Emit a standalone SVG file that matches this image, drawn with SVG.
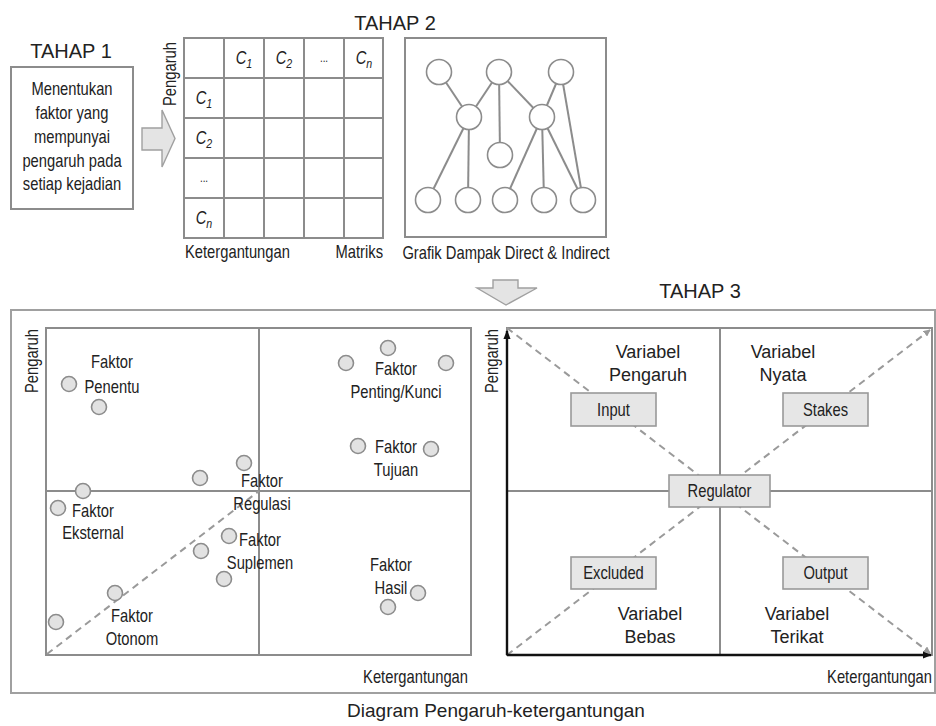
<svg xmlns="http://www.w3.org/2000/svg" width="936" height="726" viewBox="0 0 936 726">
<defs>
<style>
.n{font-family:"Liberation Sans",Arial,sans-serif;fill:#222;font-size:18px;}
.w{font-family:"Liberation Sans",Arial,sans-serif;fill:#222;}
.t18{font-size:18px;}
.g{fill:none;stroke:#8c8c8c;stroke-width:2;}
.gl{stroke:#8c8c8c;stroke-width:2;}
.dot{fill:#e2e2e2;stroke:#8c8c8c;stroke-width:1.6;}
.gn{fill:#fff;stroke:#8c8c8c;stroke-width:1.6;}
.box{fill:#e6e6e6;stroke:#999;stroke-width:1.6;}
.dash{stroke:#9a9a9a;stroke-width:2;stroke-dasharray:7 5;fill:none;}
.blk{fill:#e4e4e4;stroke:#a0a0a0;stroke-width:1.4;}
</style>
<marker id="ga" viewBox="0 0 10 10" refX="9" refY="5" markerWidth="7" markerHeight="7" orient="auto" markerUnits="userSpaceOnUse">
<path d="M0,0 L10,5 L0,10 z" fill="#9a9a9a"/>
</marker>
<marker id="ka" viewBox="0 0 10 10" refX="9" refY="5" markerWidth="9" markerHeight="9" orient="auto" markerUnits="userSpaceOnUse">
<path d="M0,1 L10,5 L0,9 z" fill="#111"/>
</marker>
</defs>
<rect width="936" height="726" fill="#fff"/>

<!-- TAHAP 1 -->
<g id="tahap1">
<text class="w" x="71" y="58" font-size="20" text-anchor="middle">TAHAP 1</text>
<rect x="11" y="67" width="122" height="142" class="g" stroke="#a0a0a0"/>
<g class="n" text-anchor="middle">
<text transform="translate(72,95) scale(.82,1)">Menentukan</text>
<text transform="translate(72,119) scale(.82,1)">faktor yang</text>
<text transform="translate(72,143) scale(.82,1)">mempunyai</text>
<text transform="translate(72,167) scale(.82,1)">pengaruh pada</text>
<text transform="translate(72,190) scale(.82,1)">setiap kejadian</text>
</g>
</g>

<g id="arrow-right">
<path class="blk" d="M142,128 L162,128 L162,110 L175,138.5 L162,167 L162,150 L142,150 z"/>
</g>

<!-- TAHAP 2 matrix -->
<g id="matriks">
<text class="w" x="395" y="30" font-size="20" text-anchor="middle">TAHAP 2</text>
<rect x="184" y="38" width="199" height="200" class="g"/>
<g class="gl">
<line x1="224" y1="38" x2="224" y2="238"/>
<line x1="264" y1="38" x2="264" y2="238"/>
<line x1="304" y1="38" x2="304" y2="238"/>
<line x1="344" y1="38" x2="344" y2="238"/>
<line x1="184" y1="78" x2="383" y2="78"/>
<line x1="184" y1="118" x2="383" y2="118"/>
<line x1="184" y1="158" x2="383" y2="158"/>
<line x1="184" y1="198" x2="383" y2="198"/>
</g>
<g class="n" font-size="19" font-style="italic" text-anchor="middle">
<text transform="translate(244,64) scale(.82,1)">C<tspan font-size="13" dy="4">1</tspan></text>
<text transform="translate(284,64) scale(.82,1)">C<tspan font-size="13" dy="4">2</tspan></text>
<text transform="translate(324,62) scale(.82,1)" font-size="12" font-style="normal">...</text>
<text transform="translate(364,64) scale(.82,1)">C<tspan font-size="13" dy="4">n</tspan></text>
<text transform="translate(204,104) scale(.82,1)">C<tspan font-size="13" dy="4">1</tspan></text>
<text transform="translate(204,144) scale(.82,1)">C<tspan font-size="13" dy="4">2</tspan></text>
<text transform="translate(204,182) scale(.82,1)" font-size="12" font-style="normal">...</text>
<text transform="translate(204,224) scale(.82,1)">C<tspan font-size="13" dy="4">n</tspan></text>
</g>
<text class="n" font-size="15" text-anchor="middle" transform="translate(176,74) rotate(-90) scale(.82,1)">Pengaruh</text>
<text class="n" font-size="16" transform="translate(185,258) scale(.82,1)">Ketergantungan</text>
<text class="n" font-size="16" text-anchor="end" transform="translate(383,258) scale(.82,1)">Matriks</text>
</g>

<!-- TAHAP 2 graph -->
<g id="grafik">
<rect x="405" y="38" width="201" height="199" class="g"/>
<g class="gl">
<line x1="439" y1="72" x2="469" y2="117"/>
<line x1="499" y1="72" x2="469" y2="117"/>
<line x1="499" y1="72" x2="500" y2="155"/>
<line x1="499" y1="72" x2="542" y2="117"/>
<line x1="561" y1="72" x2="542" y2="117"/>
<line x1="561" y1="72" x2="583" y2="200"/>
<line x1="469" y1="117" x2="428" y2="200"/>
<line x1="469" y1="117" x2="468" y2="200"/>
<line x1="542" y1="117" x2="505" y2="200"/>
<line x1="542" y1="117" x2="544" y2="200"/>
<line x1="542" y1="117" x2="583" y2="200"/>
</g>
<g class="gn">
<circle cx="439" cy="72" r="12.5"/>
<circle cx="499" cy="72" r="12.5"/>
<circle cx="561" cy="72" r="12.5"/>
<circle cx="469" cy="117" r="12.5"/>
<circle cx="542" cy="117" r="12.5"/>
<circle cx="500" cy="155" r="12.5"/>
<circle cx="428" cy="200" r="12.5"/>
<circle cx="468" cy="200" r="12.5"/>
<circle cx="505" cy="200" r="12.5"/>
<circle cx="544" cy="200" r="12.5"/>
<circle cx="583" cy="200" r="12.5"/>
</g>
<text class="n" font-size="16" text-anchor="middle" transform="translate(506,259) scale(.82,1)">Grafik Dampak Direct &amp; Indirect</text>
</g>

<g id="arrow-down">
<path class="blk" d="M493,280 L518,280 L518,288 L537,288 L506,305 L477,288 L493,288 z"/>
</g>

<!-- TAHAP 3 -->
<g id="tahap3">
<text class="w" x="700" y="298" font-size="20" text-anchor="middle">TAHAP 3</text>
<rect x="11" y="310" width="924" height="383" fill="none" stroke="#a0a0a0" stroke-width="2"/>
<text class="w" x="496" y="717" font-size="19" text-anchor="middle">Diagram Pengaruh-ketergantungan</text>
</g>

<!-- left plot -->
<g id="plot-kiri">
<rect x="46" y="328" width="425" height="327" class="g"/>
<line x1="259" y1="328" x2="259" y2="655" class="gl"/>
<line x1="46" y1="491" x2="471" y2="491" class="gl"/>
<line x1="47" y1="654" x2="259" y2="491" class="dash"/>
<text class="n" font-size="17" text-anchor="middle" transform="translate(38,361) rotate(-90) scale(.82,1)">Pengaruh</text>
<text class="n" text-anchor="end" transform="translate(468,683) scale(.82,1)">Ketergantungan</text>
<g class="dot">
<circle cx="69" cy="384" r="7.5"/>
<circle cx="99" cy="407" r="7.5"/>
<circle cx="200" cy="478" r="7.5"/>
<circle cx="244" cy="463" r="7.5"/>
<circle cx="83" cy="491" r="7.5"/>
<circle cx="58" cy="508" r="7.5"/>
<circle cx="229" cy="536" r="7.5"/>
<circle cx="201" cy="551" r="7.5"/>
<circle cx="224" cy="579" r="7.5"/>
<circle cx="115" cy="593" r="7.5"/>
<circle cx="56" cy="622" r="7.5"/>
<circle cx="388" cy="348" r="7.5"/>
<circle cx="346" cy="363" r="7.5"/>
<circle cx="446" cy="363" r="7.5"/>
<circle cx="358" cy="446" r="7.5"/>
<circle cx="431" cy="449" r="7.5"/>
<circle cx="418" cy="593" r="7.5"/>
<circle cx="388" cy="607" r="7.5"/>
</g>
<g class="n" text-anchor="middle">
<text transform="translate(112,368) scale(.82,1)">Faktor</text><text transform="translate(112,393) scale(.82,1)">Penentu</text>
<text transform="translate(396,375) scale(.82,1)">Faktor</text><text transform="translate(396,398) scale(.82,1)">Penting/Kunci</text>
<text transform="translate(396,453) scale(.82,1)">Faktor</text><text transform="translate(396,476) scale(.82,1)">Tujuan</text>
<text transform="translate(262,487) scale(.82,1)">Faktor</text><text transform="translate(262,510) scale(.82,1)">Regulasi</text>
<text transform="translate(93,517) scale(.82,1)">Faktor</text><text transform="translate(93,539) scale(.82,1)">Eksternal</text>
<text transform="translate(260,546) scale(.82,1)">Faktor</text><text transform="translate(260,569) scale(.82,1)">Suplemen</text>
<text transform="translate(391,571) scale(.82,1)">Faktor</text><text transform="translate(391,594) scale(.82,1)">Hasil</text>
<text transform="translate(132,622) scale(.82,1)">Faktor</text><text transform="translate(132,645) scale(.82,1)">Otonom</text>
</g>
</g>

<!-- right plot -->
<g id="plot-kanan">
<rect x="507" y="328" width="425" height="327" class="g"/>
<line x1="720" y1="328" x2="720" y2="655" class="gl"/>
<line x1="507" y1="491" x2="932" y2="491" class="gl"/>
<line x1="507" y1="328" x2="930" y2="653" class="dash" marker-end="url(#ga)"/>
<line x1="507" y1="655" x2="930" y2="330" class="dash" marker-end="url(#ga)"/>
<line x1="507" y1="655" x2="507" y2="331" stroke="#111" stroke-width="2.4" marker-end="url(#ka)"/>
<line x1="507" y1="655" x2="931" y2="655" stroke="#111" stroke-width="2.4" marker-end="url(#ka)"/>
<text class="n" font-size="17" text-anchor="middle" transform="translate(498,361) rotate(-90) scale(.82,1)">Pengaruh</text>
<text class="n" text-anchor="end" transform="translate(932,683) scale(.82,1)">Ketergantungan</text>
<g class="w t18" text-anchor="middle">
<text x="648" y="358">Variabel</text><text x="648" y="381">Pengaruh</text>
<text x="783" y="358">Variabel</text><text x="783" y="381">Nyata</text>
<text x="650" y="620">Variabel</text><text x="650" y="643">Bebas</text>
<text x="797" y="620">Variabel</text><text x="797" y="643">Terikat</text>
</g>
</g>

<g id="node-input"><rect x="571" y="393" width="85" height="33" class="box"/><text class="n" text-anchor="middle" transform="translate(613.5,416) scale(.82,1)">Input</text></g>
<g id="node-stakes"><rect x="783" y="393" width="85" height="33" class="box"/><text class="n" text-anchor="middle" transform="translate(825.5,416) scale(.82,1)">Stakes</text></g>
<g id="node-regulator"><rect x="669" y="475" width="101" height="32" class="box"/><text class="n" text-anchor="middle" transform="translate(719.5,497) scale(.82,1)">Regulator</text></g>
<g id="node-excluded"><rect x="571" y="557" width="85" height="32" class="box"/><text class="n" text-anchor="middle" transform="translate(613.5,579) scale(.82,1)">Excluded</text></g>
<g id="node-output"><rect x="783" y="557" width="85" height="32" class="box"/><text class="n" text-anchor="middle" transform="translate(825.5,579) scale(.82,1)">Output</text></g>
</svg>
